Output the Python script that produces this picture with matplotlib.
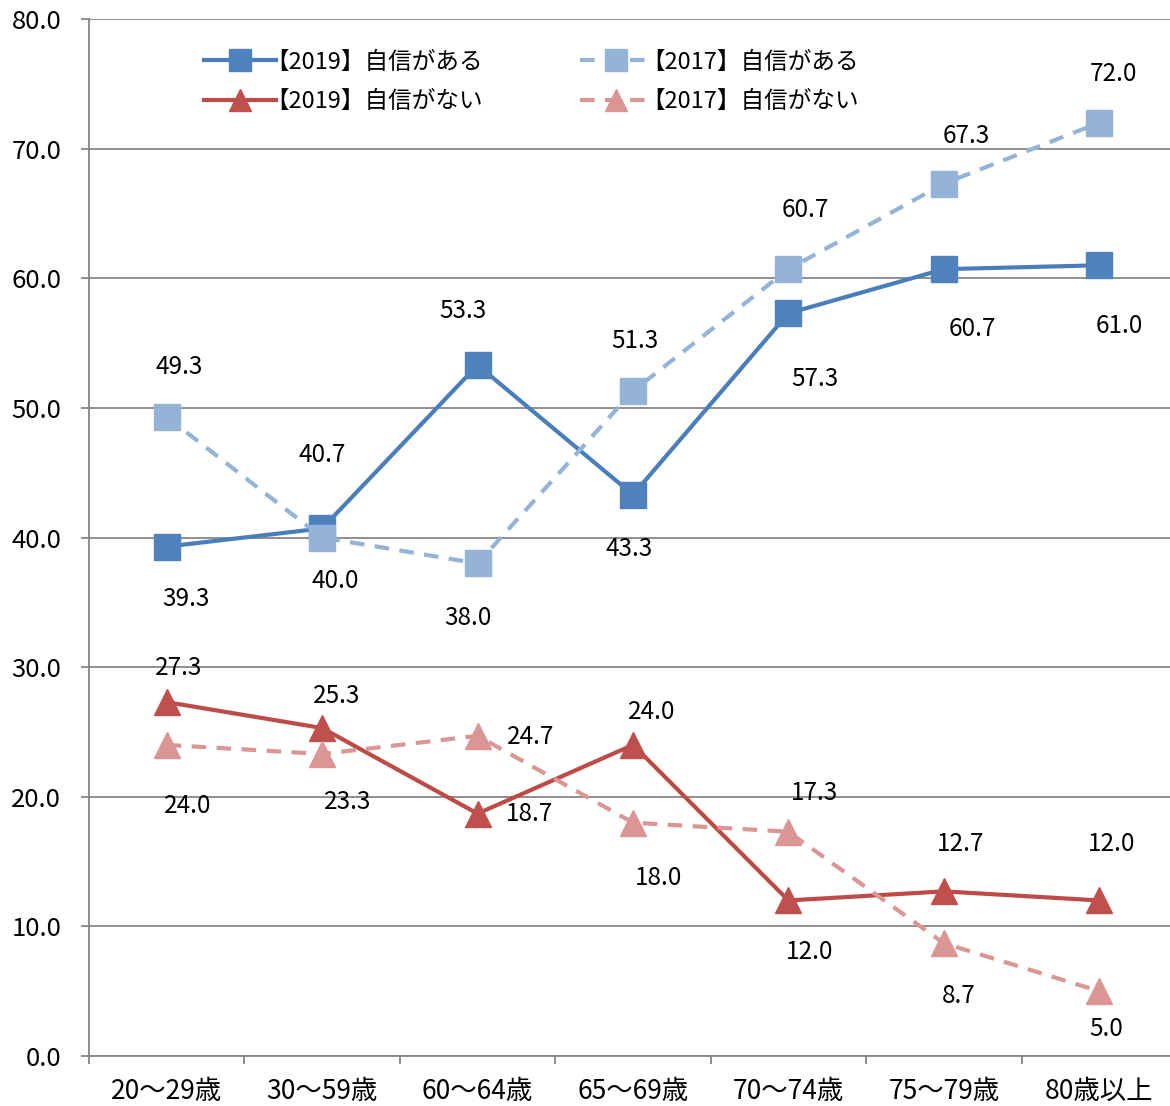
import matplotlib.pyplot as plt

plt.rcParams['font.family'] = ['Noto Sans CJK JP', 'DejaVu Sans']

# Age groups and the four series (%)
categories = ['20〜29歳', '30〜59歳', '60〜64歳', '65〜69歳', '70〜74歳', '75〜79歳', '80歳以上']
conf_2019 = [39.3, 40.7, 53.3, 43.3, 57.3, 60.7, 61.0]
conf_2017 = [49.3, 40.0, 38.0, 51.3, 60.7, 67.3, 72.0]
noconf_2019 = [27.3, 25.3, 18.7, 24.0, 12.0, 12.7, 12.0]
noconf_2017 = [24.0, 23.3, 24.7, 18.0, 17.3, 8.7, 5.0]

# label offsets in pixels (dx, dy) relative to each point
off_conf_2019 = [(19, -52), (0, 73), (-15, 54), (-4, -54), (27, -66), (28, -60), (20, -61)]
off_conf_2017 = [(12, 50), (13, -43), (-10, -55), (2, 50), (17, 59), (22, 48), (14, 49)]
off_noconf_2019 = [(12, 34), (15, 32), (52, 0), (19, 33), (21, -52), (17, 47), (12, 56)]
off_noconf_2017 = [(21, -61), (26, -48), (53, -1), (26, -55), (26, 39), (15, -53), (7, -38)]

fig = plt.figure(figsize=(11.7, 11.06), dpi=100)
ax = fig.add_axes([89 / 1170, 50 / 1106, 1088 / 1170, 1037 / 1106])

x = list(range(len(categories)))
series = [
    (conf_2019, off_conf_2019, '#4A7EBB', '#4F81BD', 's', '-', '【2019】自信がある', 19),
    (noconf_2019, off_noconf_2019, '#BE4B48', '#C0504D', '^', '-', '【2019】自信がない', 19),
    (conf_2017, off_conf_2017, '#95B3D7', '#95B3D7', 's', '--', '【2017】自信がある', 19),
    (noconf_2017, off_noconf_2017, '#D99694', '#D99694', '^', '--', '【2017】自信がない', 19),
]
for vals, offs, lc, mc, mk, ls, name, ms in series:
    ax.plot(x, vals, color=lc, linestyle=ls, linewidth=3, marker=mk,
            markersize=ms, markerfacecolor=mc, markeredgecolor=mc,
            dashes=(3.5, 2.5) if ls == '--' else (None, None),
            label=name, zorder=3)
    for xi, v, (dx, dy) in zip(x, vals, offs):
        ax.annotate(f'{v:.1f}', (xi, v), xytext=(dx, dy), textcoords='offset pixels',
                    ha='center', va='center', fontsize=17.5, zorder=4)

ax.set_xlim(-0.5, 6.5)
ax.set_ylim(0, 80)
ax.set_yticks(range(0, 81, 10))
ax.set_yticklabels([f'{v:.1f}' for v in range(0, 81, 10)], fontsize=18.5)
ax.yaxis.grid(True, color='#868686', linewidth=1.3)
ax.set_axisbelow(True)

# boundary ticks on x, labels centred on categories
ax.set_xticks([i - 0.5 for i in range(len(categories) + 1)])
ax.set_xticklabels([])
ax.set_xticks(x, minor=True)
ax.set_xticklabels(categories, minor=True, fontsize=19)
ax.tick_params(axis='x', which='major', length=6, color='#868686', width=1.3)
ax.tick_params(axis='x', which='minor', length=0, pad=16)
ax.tick_params(axis='y', length=6, color='#868686', width=1.3, pad=14)

for side in ['top', 'right']:
    ax.spines[side].set_visible(False)
for side in ['left', 'bottom']:
    ax.spines[side].set_color('#868686')
    ax.spines[side].set_linewidth(1.3)

ax.legend(loc='upper left', bbox_to_anchor=(0.086, 0.99), ncol=2, frameon=False,
          fontsize=17, handlelength=3.05, columnspacing=4.1, labelspacing=0.7,
          handletextpad=-0.45, markerscale=0.85)

fig.savefig('out.png', dpi=100)
